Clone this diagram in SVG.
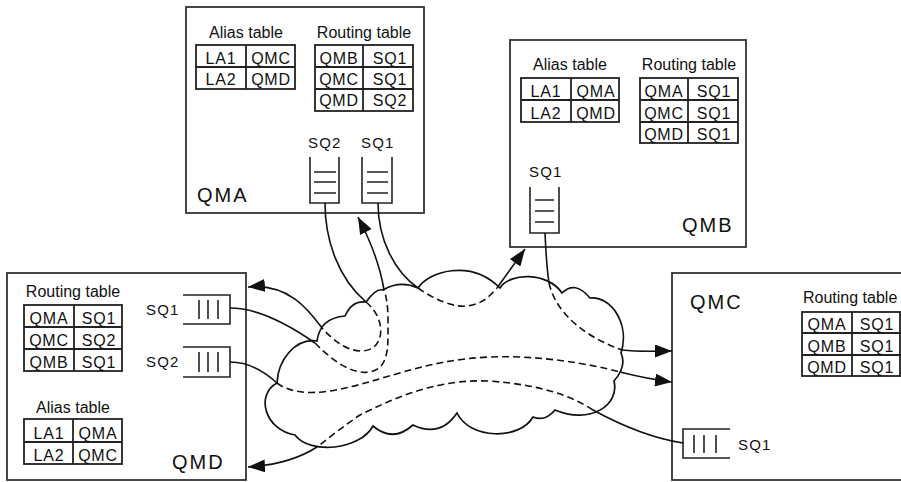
<svg xmlns="http://www.w3.org/2000/svg" width="901" height="482" viewBox="0 0 901 482">
<style>
.box{fill:#fff;stroke:#333;stroke-width:1.8}
.tb{fill:none;stroke:#222;stroke-width:1.8}
.q{fill:none;stroke:#222;stroke-width:1.6}
text{font-family:"Liberation Sans",Arial,sans-serif;fill:#111}
.h{font-size:16px;text-anchor:middle}
.c{font-size:16px;letter-spacing:0.8px;text-anchor:middle}
.s{font-size:15px;letter-spacing:1.2px}
.n{font-size:20px;letter-spacing:2px}
.ln{fill:none;stroke:#111;stroke-width:1.6}
.d{fill:none;stroke:#111;stroke-width:1.6;stroke-dasharray:7,4}
.cloud{fill:#fff;stroke:#111;stroke-width:1.7}
</style>
<defs>
<marker id="ah" viewBox="0 0 17 13" refX="17" refY="6.5" markerWidth="17" markerHeight="13" orient="auto" markerUnits="userSpaceOnUse"><path d="M0,0 L17,6.5 L0,13 z" fill="#111"/></marker>
</defs>
<rect width="901" height="482" fill="#fff"/>

<g id="QMA">
<rect class="box" x="186" y="7" width="238" height="206"/>
<text class="h" x="246" y="38">Alias table</text>
<rect class="tb" x="196" y="45" width="99" height="44"/>
<path class="tb" d="M246,45V89M196,67H295"/>
<text class="c" x="221" y="64">LA1</text><text class="c" x="271" y="64">QMC</text>
<text class="c" x="221" y="85">LA2</text><text class="c" x="271" y="85">QMD</text>
<text class="h" x="364" y="38">Routing table</text>
<rect class="tb" x="315" y="45" width="98" height="66"/>
<path class="tb" d="M363,45V111M315,67H413M315,89H413"/>
<text class="c" x="339" y="64">QMB</text><text class="c" x="390" y="64">SQ1</text>
<text class="c" x="339" y="85">QMC</text><text class="c" x="390" y="85">SQ1</text>
<text class="c" x="339" y="106">QMD</text><text class="c" x="390" y="106">SQ2</text>
<text class="s" x="308" y="148">SQ2</text>
<text class="s" x="361" y="148">SQ1</text>
<path class="q" d="M310,157V203H339V157M314,172H336M314,182H336M314,193H336"/>
<path class="q" d="M362,157V203H392V157M367,172H388M367,182H388M367,193H388"/>
<text class="n" x="197" y="202">QMA</text>
</g>

<g id="QMB">
<rect class="box" x="510" y="40" width="236" height="207"/>
<text class="h" x="570" y="70">Alias table</text>
<rect class="tb" x="521" y="78" width="98" height="44"/>
<path class="tb" d="M571,78V122M521,100H619"/>
<text class="c" x="546" y="97">LA1</text><text class="c" x="596" y="97">QMA</text>
<text class="c" x="546" y="119">LA2</text><text class="c" x="596" y="119">QMD</text>
<text class="h" x="689" y="70">Routing table</text>
<rect class="tb" x="640" y="78" width="98" height="65"/>
<path class="tb" d="M688,78V143M640,100H738M640,122H738"/>
<text class="c" x="664" y="97">QMA</text><text class="c" x="714" y="97">SQ1</text>
<text class="c" x="664" y="119">QMC</text><text class="c" x="714" y="119">SQ1</text>
<text class="c" x="664" y="140">QMD</text><text class="c" x="714" y="140">SQ1</text>
<text class="s" x="529" y="177">SQ1</text>
<path class="q" d="M530,187V233H559V187M535,200H554M535,211H554M535,222H554"/>
<text class="n" x="682" y="232">QMB</text>
</g>

<g id="QMD">
<rect class="box" x="7" y="273" width="239" height="207"/>
<text class="h" x="73" y="297">Routing table</text>
<rect class="tb" x="24" y="305" width="98" height="66"/>
<path class="tb" d="M74,305V371M24,327H122M24,349H122"/>
<text class="c" x="49" y="324">QMA</text><text class="c" x="99" y="324">SQ1</text>
<text class="c" x="49" y="346">QMC</text><text class="c" x="99" y="346">SQ2</text>
<text class="c" x="49" y="368">QMB</text><text class="c" x="99" y="368">SQ1</text>
<text class="h" x="73" y="413">Alias table</text>
<rect class="tb" x="24" y="419" width="98" height="45"/>
<path class="tb" d="M73,419V464M24,442H122"/>
<text class="c" x="49" y="439">LA1</text><text class="c" x="98" y="439">QMA</text>
<text class="c" x="49" y="461">LA2</text><text class="c" x="98" y="461">QMC</text>
<text class="s" x="146" y="315">SQ1</text>
<path class="q" d="M183,295H230V324H183M199,300V319M208,300V319M218,300V319"/>
<text class="s" x="146" y="367">SQ2</text>
<path class="q" d="M183,347H230V377H183M199,352V372M208,352V372M218,352V372"/>
<text class="n" x="172" y="469">QMD</text>
</g>

<g id="QMC">
<rect class="box" x="672" y="273" width="240" height="207"/>
<text class="n" x="690" y="309">QMC</text>
<text x="803" y="303" style="font-size:16px">Routing table</text>
<rect class="tb" x="802" y="312" width="110" height="64"/>
<path class="tb" d="M852,312V376M802,333H912M802,355H912M900,312V376"/>
<text class="c" x="827" y="330">QMA</text><text class="c" x="877" y="330">SQ1</text>
<text class="c" x="827" y="352">QMB</text><text class="c" x="877" y="352">SQ1</text>
<text class="c" x="827" y="373">QMD</text><text class="c" x="877" y="373">SQ1</text>
<path class="q" d="M730,429H683V458H730M694,435V453M704,435V453M716,435V453"/>
<text class="s" x="738" y="450">SQ1</text>
</g>

<g id="network">
<path class="cloud" d="M317,341 Q320,318 345,316 Q352,300 366,302 Q376,288 383,290 Q400,280 418,288 C428,272 470,258 500,288 C510,272 548,272 562,293 Q575,280 590,298 C612,296 630,325 621,353 Q627,366 614,381 C620,405 590,425 555,410 Q545,422 533,417 C520,440 470,440 457,413 Q440,438 413,425 Q393,443 373,426 C360,450 310,455 295,435 C265,430 255,395 277,383 C278,360 295,338 317,341 Z"/>
</g>

<g id="connectors">
<path class="ln" d="M325,203 C325,240 338,278 366,302"/>
<path class="d" d="M366,302 C388,320 385,352 360,351 C345,350 333,340 322,328"/>
<path class="ln" d="M322,328 C310,312 290,283 248,287" marker-end="url(#ah)"/>

<path class="ln" d="M230,308 C255,308 285,322 315,343"/>
<path class="d" d="M315,343 C330,358 350,375 370,372 C390,368 388,345 388,320 C388,305 386,295 384,290"/>
<path class="ln" d="M384,290 C380,265 370,240 358,217" marker-end="url(#ah)"/>

<path class="ln" d="M378,203 C378,240 395,272 418,288"/>
<path class="d" d="M418,288 C435,300 455,308 468,306 C485,303 490,295 497,288"/>
<path class="ln" d="M497,288 L525,249" marker-end="url(#ah)"/>

<path class="ln" d="M545,233 C546,255 547,270 549,283"/>
<path class="d" d="M549,283 C555,310 580,335 622,350"/>
<path class="ln" d="M622,350 C640,352 655,351 672,351" marker-end="url(#ah)"/>

<path class="ln" d="M230,362 C250,362 265,372 277,383"/>
<path class="d" d="M277,383 C290,393 310,394 330,391 C380,383 420,360 490,357 C540,355 590,364 620,372"/>
<path class="ln" d="M620,372 C640,377 655,380 672,382" marker-end="url(#ah)"/>

<path class="ln" d="M683,443 C650,438 615,422 593,410"/>
<path class="d" d="M593,410 C570,395 540,385 490,381 C440,379 400,395 360,415 C345,425 330,437 317,447"/>
<path class="ln" d="M317,447 C300,458 280,465 248,467" marker-end="url(#ah)"/>
</g>
</svg>
